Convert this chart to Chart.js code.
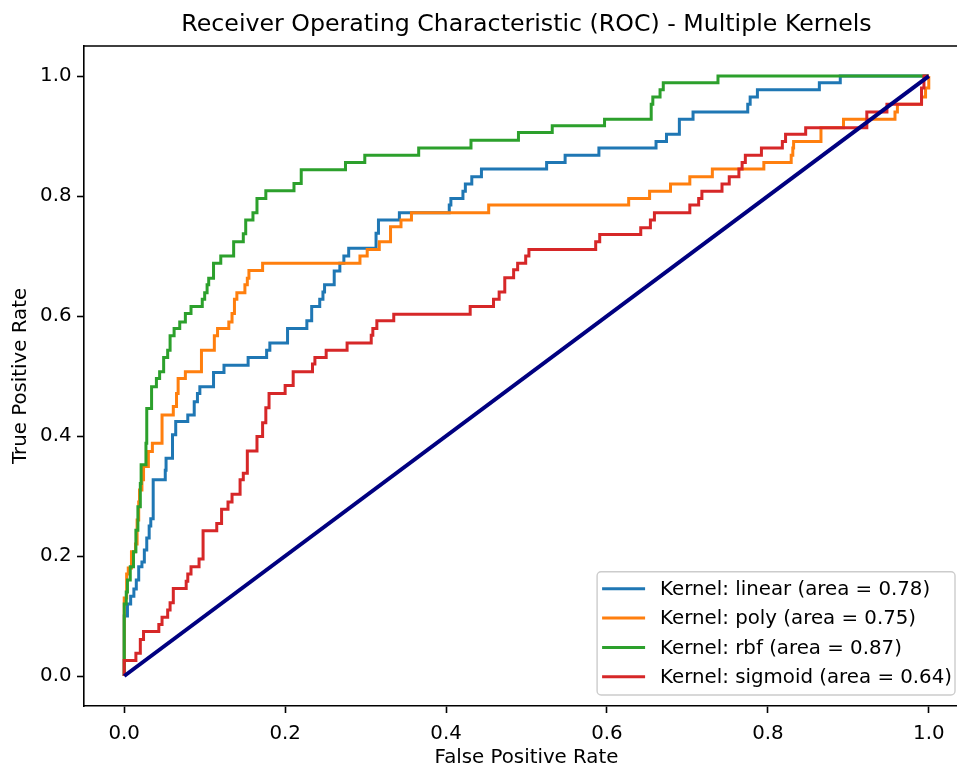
<!DOCTYPE html>
<html>
<head>
<meta charset="utf-8">
<script src="https://cdn.jsdelivr.net/npm/chart.js@4.4.0/dist/chart.umd.min.js"></script>
<style>
  html, body { margin: 0; padding: 0; background: #fff; }
  #wrap { width: 957px; height: 763px; overflow: hidden; }
  #wrap div { width: 975px; height: 763px; }
</style>
</head>
<body>
<div id="wrap"><div><canvas id="roc" width="975" height="763"></canvas></div></div>
<script>
const kernels = ["linear", "poly", "rbf", "sigmoid"];
const aucs = [0.78, 0.75, 0.87, 0.64];
const colors = ["#1f77b4", "#ff7f0e", "#2ca02c", "#d62728"];
const axisTicks = [0, 0.2, 0.4, 0.6, 0.8, 1.0];

// roc points: each point is the top of a vertical step at that fpr
const linearFpr = [0, 0, 0.004, 0.008, 0.012, 0.015, 0.018, 0.022, 0.025, 0.028, 0.031, 0.033, 0.036, 0.036, 0.051, 0.052, 0.060, 0.064, 0.079, 0.087, 0.091, 0.094, 0.111, 0.124, 0.154, 0.177, 0.181, 0.203, 0.227, 0.233, 0.243, 0.247, 0.249, 0.261, 0.268, 0.273, 0.279, 0.313, 0.316, 0.342, 0.404, 0.406, 0.421, 0.424, 0.432, 0.444, 0.525, 0.548, 0.590, 0.661, 0.674, 0.690, 0.707, 0.775, 0.778, 0.787, 0.864, 0.890, 1.0];
const linearTpr = [0, 0.100, 0.120, 0.133, 0.145, 0.160, 0.182, 0.190, 0.210, 0.230, 0.250, 0.262, 0.279, 0.327, 0.343, 0.363, 0.402, 0.424, 0.435, 0.457, 0.471, 0.482, 0.506, 0.518, 0.531, 0.543, 0.555, 0.579, 0.592, 0.616, 0.628, 0.640, 0.652, 0.675, 0.688, 0.700, 0.713, 0.738, 0.760, 0.772, 0.785, 0.796, 0.808, 0.820, 0.832, 0.845, 0.856, 0.868, 0.880, 0.891, 0.903, 0.928, 0.940, 0.953, 0.965, 0.977, 0.989, 1.0, 1.0];

const polyFpr = [0, 0, 0.003, 0.005, 0.009, 0.014, 0.016, 0.018, 0.019, 0.022, 0.024, 0.030, 0.035, 0.047, 0.061, 0.065, 0.067, 0.076, 0.096, 0.112, 0.116, 0.130, 0.134, 0.137, 0.140, 0.150, 0.153, 0.155, 0.172, 0.293, 0.302, 0.317, 0.331, 0.344, 0.357, 0.453, 0.627, 0.653, 0.679, 0.703, 0.731, 0.795, 0.829, 0.831, 0.832, 0.866, 0.894, 0.958, 0.961, 0.991, 0.996, 1.0];
const polyTpr = [0, 0.130, 0.170, 0.180, 0.207, 0.220, 0.260, 0.290, 0.310, 0.327, 0.349, 0.374, 0.388, 0.435, 0.449, 0.471, 0.496, 0.507, 0.543, 0.567, 0.579, 0.590, 0.604, 0.628, 0.639, 0.652, 0.663, 0.676, 0.688, 0.700, 0.711, 0.724, 0.749, 0.760, 0.772, 0.785, 0.796, 0.808, 0.820, 0.832, 0.845, 0.856, 0.868, 0.880, 0.891, 0.914, 0.928, 0.940, 0.953, 0.965, 0.980, 1.0];

const rbfFpr = [0, 0, 0.0025, 0.004, 0.0075, 0.0115, 0.0145, 0.017, 0.020, 0.021, 0.027, 0.028, 0.034, 0.040, 0.044, 0.049, 0.054, 0.057, 0.062, 0.069, 0.076, 0.083, 0.097, 0.100, 0.103, 0.105, 0.111, 0.120, 0.136, 0.148, 0.151, 0.160, 0.165, 0.176, 0.211, 0.220, 0.275, 0.299, 0.366, 0.431, 0.490, 0.532, 0.597, 0.655, 0.657, 0.666, 0.670, 0.738, 1.0];
const rbfTpr = [0, 0.120, 0.140, 0.160, 0.182, 0.207, 0.243, 0.282, 0.321, 0.352, 0.388, 0.446, 0.482, 0.496, 0.507, 0.531, 0.543, 0.567, 0.579, 0.590, 0.604, 0.616, 0.628, 0.639, 0.652, 0.663, 0.688, 0.700, 0.724, 0.737, 0.760, 0.772, 0.796, 0.809, 0.821, 0.844, 0.856, 0.868, 0.880, 0.893, 0.906, 0.917, 0.928, 0.953, 0.965, 0.977, 0.989, 1.0, 1.0];

const sigmoidFpr = [0, 0, 0.0145, 0.020, 0.024, 0.043, 0.047, 0.054, 0.057, 0.061, 0.077, 0.079, 0.083, 0.093, 0.098, 0.115, 0.121, 0.129, 0.134, 0.144, 0.148, 0.153, 0.165, 0.172, 0.176, 0.180, 0.200, 0.210, 0.234, 0.237, 0.251, 0.277, 0.307, 0.309, 0.314, 0.335, 0.430, 0.459, 0.466, 0.473, 0.484, 0.489, 0.499, 0.503, 0.586, 0.591, 0.642, 0.654, 0.659, 0.703, 0.714, 0.718, 0.743, 0.752, 0.764, 0.768, 0.772, 0.792, 0.818, 0.822, 0.847, 0.923, 0.948, 0.991, 0.994, 1.0];
const sigmoidTpr = [0, 0.026, 0.038, 0.061, 0.074, 0.086, 0.098, 0.110, 0.122, 0.146, 0.158, 0.170, 0.182, 0.195, 0.242, 0.254, 0.278, 0.290, 0.303, 0.327, 0.338, 0.375, 0.399, 0.422, 0.447, 0.471, 0.484, 0.507, 0.520, 0.531, 0.543, 0.555, 0.568, 0.579, 0.592, 0.603, 0.616, 0.628, 0.640, 0.664, 0.677, 0.688, 0.700, 0.711, 0.724, 0.736, 0.747, 0.760, 0.772, 0.785, 0.796, 0.808, 0.820, 0.832, 0.845, 0.856, 0.868, 0.880, 0.891, 0.903, 0.914, 0.940, 0.953, 0.980, 1.0, 1.0];

const chanceFpr = [0, 1];
const chanceTpr = [0, 1];

const fprs = [linearFpr, polyFpr, rbfFpr, sigmoidFpr];
const tprs = [linearTpr, polyTpr, rbfTpr, sigmoidTpr];

function toPoints(xs, ys) {
  return xs.map((x, i) => ({ x: x, y: ys[i] }));
}

const datasets = kernels.map((k, i) => ({
  label: `Kernel: ${k} (area = ${aucs[i].toFixed(2)})`,
  data: toPoints(fprs[i], tprs[i]),
  borderColor: colors[i],
  borderWidth: 3,
  stepped: "before",
  order: 4 - i
}));
datasets.push({
  label: "",
  data: toPoints(chanceFpr, chanceTpr),
  borderColor: "#000080",
  borderWidth: 4,
  order: 0
});

const font = "'DejaVu Sans', sans-serif";
const textSize = 19.8;

// frame on top/right plus a matplotlib-style legend in the lower right
const framePlugin = {
  id: "frameAndLegend",
  afterDraw(chart) {
    const { ctx, chartArea: a } = chart;
    ctx.save();
    ctx.strokeStyle = "#000";
    ctx.lineWidth = 1.6;
    ctx.beginPath();
    ctx.moveTo(a.left, a.top);
    ctx.lineTo(a.right, a.top);
    ctx.lineTo(a.right, a.bottom);
    ctx.stroke();

    const items = chart.data.datasets.filter(d => d.label);
    ctx.font = `${textSize}px ${font}`;
    const maxW = Math.max(...items.map(d => ctx.measureText(d.label).width));
    const right = a.right - 14;
    const bottom = a.bottom - 11;
    const w = 5 + 43 + 15 + maxW + 3;
    const rowH = 29.3;
    const h = 17 + rowH * (items.length - 1) + 18.3;
    const left = right - w;
    const top = bottom - h;
    ctx.beginPath();
    ctx.roundRect(left, top, w, h, 4);
    ctx.fillStyle = "rgba(255,255,255,0.8)";
    ctx.fill();
    ctx.strokeStyle = "#cccccc";
    ctx.lineWidth = 1.4;
    ctx.stroke();
    items.forEach((d, i) => {
      const y = top + 17 + i * rowH;
      ctx.beginPath();
      ctx.strokeStyle = d.borderColor;
      ctx.lineWidth = 3;
      ctx.moveTo(left + 5, y);
      ctx.lineTo(left + 48, y);
      ctx.stroke();
      ctx.fillStyle = "#000";
      ctx.textBaseline = "middle";
      ctx.fillText(d.label, left + 63, y + 1);
    });
    ctx.restore();
  }
};

function fixedTicks(scale) {
  scale.ticks = axisTicks.map(v => ({ value: v }));
}

const tickFont = { family: font, size: textSize };
const axisGrid = { drawOnChartArea: false, drawTicks: true, tickLength: 7, tickWidth: 1.6, tickColor: "#000" };
const axisBorder = { display: true, color: "#000", width: 1.6 };

new Chart(document.getElementById("roc"), {
  type: "line",
  data: { datasets: datasets },
  options: {
    responsive: false,
    animation: false,
    layout: { padding: { left: 0, right: 6, top: 0, bottom: 0 } },
    elements: { point: { radius: 0 }, line: { tension: 0 } },
    plugins: {
      legend: { display: false },
      tooltip: { enabled: false },
      title: {
        display: true,
        fullSize: false,
        text: "Receiver Operating Characteristic (ROC) - Multiple Kernels",
        color: "#000",
        font: { family: font, size: 23.7, weight: "normal", lineHeight: 1.2 },
        padding: { top: 11, bottom: 6.6 }
      }
    },
    scales: {
      x: {
        type: "linear",
        min: -0.05,
        max: 1.05,
        afterBuildTicks: fixedTicks,
        afterFit: s => { s.height = 57; },
        ticks: { color: "#000", font: tickFont, padding: 8.5, maxRotation: 0,
                 callback: v => v.toFixed(1) },
        grid: axisGrid,
        border: axisBorder,
        title: { display: true, text: "False Positive Rate", color: "#000",
                 font: { family: font, size: textSize, lineHeight: 0.5 }, padding: { top: 0, bottom: 0 } }
      },
      y: {
        type: "linear",
        min: -0.05,
        max: 1.05,
        afterBuildTicks: fixedTicks,
        afterFit: s => { s.width = 84; },
        ticks: { color: "#000", font: tickFont, padding: 5.5,
                 callback: v => v.toFixed(1) },
        grid: axisGrid,
        border: axisBorder,
        title: { display: true, text: "True Positive Rate", color: "#000",
                 font: { family: font, size: textSize, lineHeight: 1 }, padding: { top: 11, bottom: 0 } }
      }
    }
  },
  plugins: [framePlugin]
});
</script>
</body>
</html>
